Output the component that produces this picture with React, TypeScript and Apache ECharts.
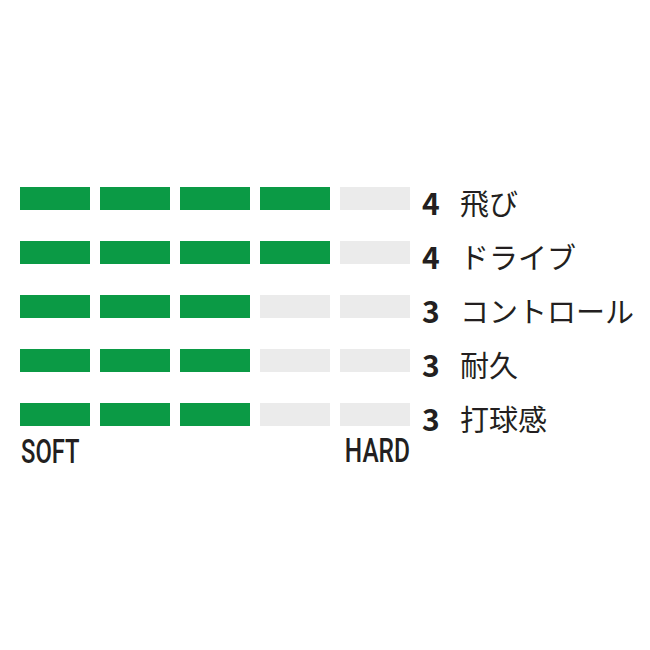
import { useEffect, useRef } from 'react'
import * as echarts from 'echarts'

// 5段階の評価バー（左が SOFT、右が HARD）
const items = ['飛び', 'ドライブ', 'コントロール', '耐久', '打球感']
const ratings = [4, 4, 3, 3, 3]
const steps = 5
const scaleEnds = ['SOFT', 'HARD']

const GREEN = '#0b9a45'
const GRAY = '#ebebeb'
const INK = '#231f20'

export default function App() {
  const ref = useRef<HTMLDivElement>(null)

  useEffect(() => {
    document.body.style.margin = '0'
    if (!ref.current) return
    const chart = echarts.init(ref.current, null, { renderer: 'svg' })

    const cells: number[][] = []
    items.forEach((_, r) => {
      for (let i = 0; i < steps; i++) cells.push([i, r, i < ratings[r] ? 1 : 0])
    })

    chart.setOption({
      animation: false,
      backgroundColor: '#ffffff',
      grid: { left: 20, width: 400, top: 171.5, height: 270 },
      xAxis: { type: 'value', min: 0, max: steps, show: false },
      yAxis: {
        type: 'category',
        data: items,
        inverse: true,
        position: 'right',
        axisLine: { show: false },
        axisTick: { show: false },
        axisLabel: {
          margin: 2,
          align: 'left',
          formatter: (v: string, idx: number) => `{n|${ratings[idx]}}{t|${v}}`,
          rich: {
            n: {
              fontFamily: 'Noto Sans CJK JP',
              fontSize: 30,
              fontWeight: 'bold',
              color: INK,
              width: 38,
              padding: [6, 0, 0, 0],
            },
            t: { fontFamily: 'Noto Sans CJK JP', fontSize: 29, color: INK, padding: [6, 0, 0, 0] },
          },
        },
      },
      series: [
        {
          type: 'custom',
          encode: { x: 0, y: 1 },
          data: cells,
          renderItem: (_p: any, api: any) => {
            const a = api.coord([api.value(0), api.value(1)])
            const b = api.coord([api.value(0) + 1, api.value(1)])
            const h = api.size([0, 1])[1] * 0.43
            return {
              type: 'rect',
              shape: { x: a[0], y: a[1] - h / 2, width: b[0] - a[0] - 10, height: h },
              style: { fill: api.value(2) ? GREEN : GRAY },
            }
          },
        },
      ],
      graphic: [
        {
          type: 'text',
          x: 21,
          y: 451,
          scaleX: 0.7,
          style: {
            text: scaleEnds[0],
            font: '500 34px Roboto',
            fill: INK,
            align: 'left',
            verticalAlign: 'middle',
          },
        },
        {
          type: 'text',
          x: 410,
          y: 451,
          scaleX: 0.72,
          style: {
            text: scaleEnds[1],
            font: '500 34px Roboto',
            fill: INK,
            align: 'right',
            verticalAlign: 'middle',
          },
        },
      ],
    })

    return () => chart.dispose()
  }, [])

  return <div ref={ref} style={{ width: 650, height: 650 }} />
}
